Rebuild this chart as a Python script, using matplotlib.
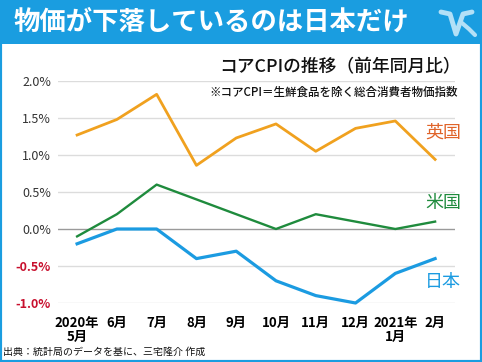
import matplotlib
matplotlib.use('Agg')
from matplotlib import pyplot as plt
from matplotlib.patches import Rectangle

plt.rcParams['font.family'] = ['Noto Sans CJK JP', 'DejaVu Sans']

months = ['2020年\n5月', '6月', '7月', '8月', '9月', '10月', '11月', '12月', '2021年\n1月', '2月']
uk = [1.27, 1.48, 1.82, 0.86, 1.23, 1.42, 1.05, 1.36, 1.46, 0.94]
us = [-0.1, 0.2, 0.6, 0.4, 0.2, 0.0, 0.2, 0.1, 0.0, 0.1]
jp = [-0.2, 0.0, 0.0, -0.4, -0.3, -0.7, -0.9, -1.0, -0.6, -0.4]
yticks = [-1.0, -0.5, 0.0, 0.5, 1.0, 1.5, 2.0]

blue = '#1a9de0'
W, H = 482, 362

fig = plt.figure(figsize=(W / 100, H / 100), dpi=100)
fig.patch.set_facecolor('white')

# frame and banner
fig.patches.append(Rectangle((0, 0), 1, 1, transform=fig.transFigure,
                             facecolor='none', edgecolor=blue, linewidth=3, zorder=0))
fig.patches.append(Rectangle((0, 1 - 44 / H), 1, 44 / H, transform=fig.transFigure,
                             facecolor=blue, edgecolor='none', zorder=0))
fig.text(14 / W, 1 - 22 / H, '物価が下落しているのは日本だけ', color='white',
         fontsize=19, fontweight='bold', va='center', ha='left')

# logo (rough)
logo = '#b3e0f7'
fig.add_artist(plt.Line2D([441 / W, 450 / W, 456 / W, 463 / W, 472 / W],
                          [1 - 12 / H, 1 - 14 / H, 1 - 34 / H, 1 - 14 / H, 1 - 12 / H],
                          transform=fig.transFigure, color=logo, lw=3.5, solid_capstyle='round'))
fig.add_artist(plt.Line2D([462 / W, 469 / W, 475 / W],
                          [1 - 23 / H, 1 - 29 / H, 1 - 35 / H],
                          transform=fig.transFigure, color=logo, lw=3, solid_capstyle='round'))

ax = fig.add_axes([58 / W, (H - 303) / H, 397 / W, 222 / H])
x = list(range(len(months)))
ax.plot(x, uk, color='#f0a11f', lw=2.0, clip_on=False, zorder=3)
ax.plot(x, us, color='#1f8b3d', lw=1.7, clip_on=False, zorder=3)
ax.plot(x, jp, color='#1b9be1', lw=2.3, clip_on=False, zorder=3)

ax.set_xlim(-0.48, 9.5)
ax.set_ylim(-1.0, 2.0)
for v in yticks:
    ax.axhline(v, color='#9a9a9a' if v == 0 else '#dcdcdc', lw=1.0, zorder=1)
for s in ax.spines.values():
    s.set_visible(False)

ax.set_yticks(yticks)
ax.set_yticklabels([f'{v:.1f}%' for v in yticks])
for lab, v in zip(ax.get_yticklabels(), yticks):
    lab.set_fontsize(9)
    if v < 0:
        lab.set_color('#c8102e')
        lab.set_fontweight('bold')
    else:
        lab.set_color('#333333')
ax.set_xticks(x)
ax.set_xticklabels(months, fontsize=9.5, fontweight='bold', linespacing=1.0)
ax.tick_params(length=0, pad=5)
ax.tick_params(axis='x', pad=9)
for lab in ax.get_xticklabels():
    lab.set_verticalalignment('top')

# titles
fig.text(461 / W, 1 - 67 / H, 'コアCPIの推移（前年同月比）', fontsize=12.8,
         fontweight='medium', ha='right', va='center', color='#111111')
fig.text(458 / W, 1 - 92 / H, '※コアCPI＝生鮮食品を除く総合消費者物価指数', fontsize=8.3,
         fontweight='medium', ha='right', va='center', color='#111111')

# series labels
fig.text(443 / W, 1 - 133 / H, '英国', fontsize=13, color='#e0642a', ha='center', va='center')
fig.text(443 / W, 1 - 203 / H, '米国', fontsize=13, color='#1f8b3d', ha='center', va='center')
fig.text(443 / W, 1 - 282 / H, '日本', fontsize=13, color='#1b9be1', ha='center', va='center')

# source
fig.text(3 / W, 1 - 352 / H, '出典：統計局のデータを基に、三宅隆介 作成', fontsize=7.2,
         ha='left', va='center', color='#111111')

fig.savefig('out.png', dpi=100)
